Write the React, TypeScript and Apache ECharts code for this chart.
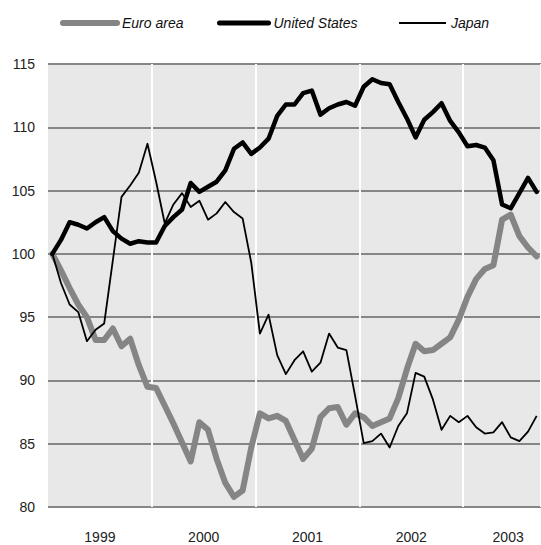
import React, { useEffect, useRef } from "react";
import * as echarts from "echarts";

const months: string[] = [
  "1999-01", "1999-02", "1999-03", "1999-04", "1999-05", "1999-06", "1999-07", "1999-08", "1999-09", "1999-10", "1999-11", "1999-12",
  "2000-01", "2000-02", "2000-03", "2000-04", "2000-05", "2000-06", "2000-07", "2000-08", "2000-09", "2000-10", "2000-11", "2000-12",
  "2001-01", "2001-02", "2001-03", "2001-04", "2001-05", "2001-06", "2001-07", "2001-08", "2001-09", "2001-10", "2001-11", "2001-12",
  "2002-01", "2002-02", "2002-03", "2002-04", "2002-05", "2002-06", "2002-07", "2002-08", "2002-09", "2002-10", "2002-11", "2002-12",
  "2003-01", "2003-02", "2003-03", "2003-04", "2003-05", "2003-06", "2003-07", "2003-08", "2003-09",
];

const euroArea: number[] = [
  100.0, 98.7, 97.3, 96.0, 95.0, 93.2, 93.2, 94.1, 92.7, 93.3, 91.2, 89.5,
  89.4, 88.0, 86.6, 85.1, 83.6, 86.7, 86.1, 83.8, 81.9, 80.8, 81.3, 84.7,
  87.4, 87.0, 87.2, 86.8, 85.3, 83.8, 84.6, 87.1, 87.8, 87.9, 86.5, 87.4,
  87.1, 86.4, 86.7, 87.0, 88.6, 90.9, 92.9, 92.3, 92.4, 92.9, 93.4, 94.8,
  96.6, 98.0, 98.8, 99.1, 102.7, 103.1, 101.4, 100.5, 99.8,
];

const unitedStates: number[] = [
  100.0, 101.1, 102.5, 102.3, 102.0, 102.5, 102.9, 101.8, 101.2, 100.8, 101.0, 100.9,
  100.9, 102.2, 102.9, 103.5, 105.6, 104.9, 105.3, 105.7, 106.6, 108.3, 108.8, 107.9,
  108.4, 109.1, 110.9, 111.8, 111.8, 112.7, 112.9, 111.0, 111.5, 111.8, 112.0, 111.7,
  113.2, 113.8, 113.5, 113.4, 112.0, 110.7, 109.2, 110.6, 111.2, 111.9, 110.5, 109.6,
  108.5, 108.6, 108.4, 107.4, 103.9, 103.6, 104.8, 106.0, 104.9,
];

const japan: number[] = [
  100.0, 97.7, 96.0, 95.4, 93.1, 94.0, 94.5, 99.5, 104.5, 105.4, 106.4, 108.7,
  105.7, 102.4, 103.9, 104.8, 103.7, 104.2, 102.7, 103.2, 104.1, 103.3, 102.8, 99.3,
  93.7, 95.2, 92.0, 90.5, 91.6, 92.3, 90.7, 91.4, 93.7, 92.6, 92.4, 88.8,
  85.05, 85.2, 85.8, 84.7, 86.4, 87.4, 90.6, 90.3, 88.5, 86.1, 87.2, 86.7,
  87.2, 86.3, 85.8, 85.9, 86.7, 85.5, 85.2, 85.95, 87.2,
];

const yearLabels: string[] = ["1999", "2000", "2001", "2002", "2003"];
const yearLabelPositions: number[] = [6, 18, 30, 42, 53.2];

const FONT = "'Liberation Sans', Arial, sans-serif";

export default function App() {
  const ref = useRef<HTMLDivElement>(null);

  useEffect(() => {
    if (!ref.current) return;
    const chart = echarts.init(ref.current, null, { renderer: "svg" });
    const legendText = { fontFamily: FONT, fontSize: 14, fontStyle: "italic", color: "#111" };
    const legendBase = {
      top: 16,
      itemHeight: 14,
      itemStyle: { opacity: 0 },
      textStyle: legendText,
      selectedMode: false,
      padding: 0,
    };
    chart.setOption({
      animation: false,
      backgroundColor: "#ffffff",
      legend: [
        {
          ...legendBase, left: 60, itemWidth: 54, data: ["Euro area"],
          lineStyle: { color: "#858585", width: 6, cap: "round" },
        },
        {
          ...legendBase, left: 217, itemWidth: 49, data: ["United States"],
          lineStyle: { color: "#000000", width: 5, cap: "round" },
        },
        {
          ...legendBase, left: 398, itemWidth: 47, data: ["Japan"],
          lineStyle: { color: "#000000", width: 2 },
        },
      ],
      grid: {
        left: 48,
        top: 64,
        width: 495,
        height: 443,
        show: true,
        backgroundColor: "#e8e8e8",
        borderWidth: 0,
        containLabel: false,
      },
      xAxis: [
        {
          type: "category",
          data: months,
          boundaryGap: true,
          axisLine: { show: false },
          axisTick: { show: false },
          axisLabel: { show: false },
          splitLine: {
            show: true,
            interval: (index: number) => index > 0 && index % 12 === 0,
            lineStyle: { color: "#ffffff", width: 2 },
          },
        },
        {
          type: "value",
          min: 0,
          max: months.length,
          position: "bottom",
          axisLine: { show: false },
          axisTick: { show: false },
          splitLine: { show: false },
          axisLabel: {
            customValues: yearLabelPositions,
            formatter: (v: number) => yearLabels[yearLabelPositions.indexOf(v)] ?? "",
            margin: 23,
            fontFamily: FONT,
            fontSize: 14,
            color: "#222",
          },
        },
      ],
      yAxis: {
        type: "value",
        min: 80,
        max: 115,
        interval: 5,
        axisLine: { show: false },
        axisTick: { show: false },
        axisLabel: { margin: 13, fontFamily: FONT, fontSize: 14, color: "#222" },
        splitLine: { show: true, lineStyle: { color: "#868686", width: 2 } },
      },
      series: [
        {
          name: "Euro area",
          type: "line",
          data: euroArea,
          xAxisIndex: 0,
          symbol: "none",
          color: "#858585",
          lineStyle: { color: "#858585", width: 6, cap: "round", join: "round" },
        },
        {
          name: "United States",
          type: "line",
          data: unitedStates,
          xAxisIndex: 0,
          symbol: "none",
          color: "#000000",
          lineStyle: { color: "#000000", width: 4.5, cap: "round", join: "round" },
        },
        {
          name: "Japan",
          type: "line",
          data: japan,
          xAxisIndex: 0,
          symbol: "none",
          color: "#000000",
          lineStyle: { color: "#000000", width: 1.8, join: "round" },
        },
      ],
    });
    return () => chart.dispose();
  }, []);

  return <div ref={ref} style={{ width: 541, height: 545, position: "absolute", left: 0, top: 0 }} />;
}
